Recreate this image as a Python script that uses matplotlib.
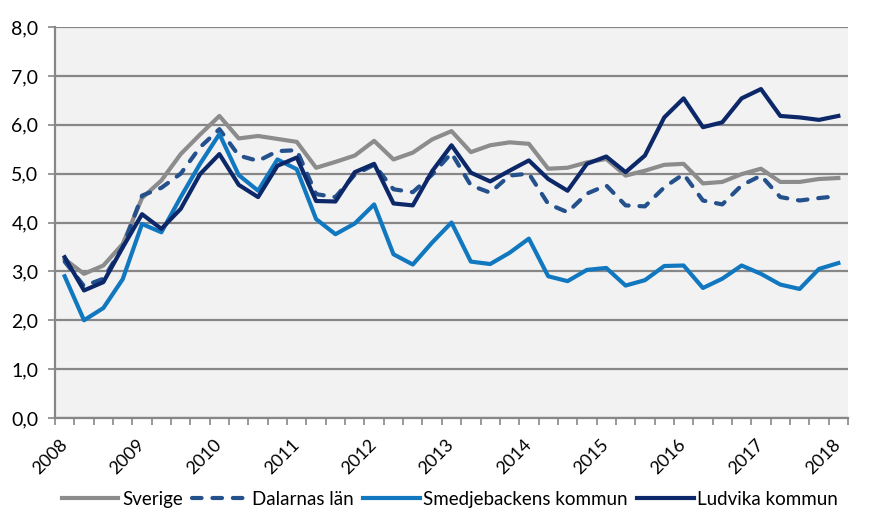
import matplotlib
matplotlib.use("Agg")
import matplotlib.pyplot as plt
from matplotlib.ticker import FuncFormatter, FixedLocator, NullFormatter
from matplotlib.transforms import ScaledTranslation

years = ["2008", "2009", "2010", "2011", "2012", "2013", "2014", "2015", "2016", "2017", "2018"]

sverige = [3.25, 2.95, 3.12, 3.56, 4.50, 4.86, 5.40, 5.80, 6.18, 5.72, 5.77, 5.71, 5.65, 5.12, 5.24, 5.37,
           5.67, 5.29, 5.43, 5.70, 5.87, 5.44, 5.58, 5.64, 5.61, 5.10, 5.12, 5.23, 5.30, 4.96, 5.06, 5.18,
           5.20, 4.80, 4.83, 4.99, 5.10, 4.83, 4.83, 4.89, 4.91]
dalarna = [3.20, 2.70, 2.85, 3.50, 4.55, 4.71, 5.00, 5.54, 5.91, 5.37, 5.26, 5.46, 5.48, 4.58, 4.52, 4.98,
           5.18, 4.68, 4.62, 4.98, 5.42, 4.76, 4.61, 4.96, 5.00, 4.38, 4.21, 4.59, 4.76, 4.35, 4.33, 4.72,
           4.99, 4.45, 4.37, 4.76, 4.96, 4.52, 4.45, 4.50, 4.54]
smedje = [2.90, 2.00, 2.25, 2.84, 3.97, 3.80, 4.52, 5.20, 5.81, 4.97, 4.65, 5.29, 5.09, 4.07, 3.76, 3.98,
          4.37, 3.35, 3.14, 3.59, 4.00, 3.20, 3.15, 3.38, 3.67, 2.90, 2.80, 3.03, 3.07, 2.71, 2.82, 3.11,
          3.12, 2.66, 2.85, 3.12, 2.95, 2.73, 2.64, 3.05, 3.17]
ludvika = [3.29, 2.61, 2.78, 3.49, 4.17, 3.87, 4.28, 4.99, 5.40, 4.77, 4.52, 5.16, 5.33, 4.44, 4.43, 5.03,
           5.20, 4.39, 4.35, 5.05, 5.58, 5.02, 4.84, 5.06, 5.27, 4.89, 4.65, 5.20, 5.35, 5.03, 5.37, 6.15,
           6.54, 5.95, 6.05, 6.54, 6.73, 6.18, 6.15, 6.10, 6.18]

series_names = ["Sverige", "Dalarnas län", "Smedjebackens kommun", "Ludvika kommun"]

plt.rcParams['font.family'] = ['Lato', 'DejaVu Sans']

fig = plt.figure(figsize=(8.86, 5.31), dpi=100)
ax = fig.add_axes([55/886, 1-418/531, (848-55)/886, (418-27)/531])
ax.set_facecolor('#f2f2f2')

x = list(range(len(sverige)))
lw = 3.0
ax.plot(x, sverige, color='#8c8c8c', lw=lw, label=series_names[0], zorder=3)
ax.plot(x, dalarna, color='#24508c', lw=lw, ls=(0, (2.3, 2.6)), dash_capstyle='round',
        label=series_names[1], zorder=3)
ax.plot(x, smedje, color='#1178c0', lw=lw, label=series_names[2], zorder=3)
ax.plot(x, ludvika, color='#0c2869', lw=lw, label=series_names[3], zorder=4)

ax.set_xlim(-0.5, len(sverige) - 0.5)
ax.set_ylim(0, 8)
ax.yaxis.set_major_locator(FixedLocator(range(0, 9)))
ax.yaxis.set_major_formatter(FuncFormatter(lambda v, p: f"{v:.1f}".replace(".", ",")))
ax.grid(axis='y', color='#878787', lw=1.6, zorder=1)
ax.set_axisbelow(True)

# x axis: minor ticks between categories, year labels placed manually
ax.xaxis.set_major_locator(FixedLocator([]))
ax.xaxis.set_major_formatter(NullFormatter())
ax.xaxis.set_minor_locator(FixedLocator([k - 0.5 for k in range(len(sverige) + 1)]))
ax.tick_params(axis='x', which='minor', length=5, width=1.2, color='#878787', direction='out')
ax.tick_params(axis='y', length=5, width=1.2, color='#878787', labelsize=14, pad=7)

label_trans = ax.get_xaxis_transform() + ScaledTranslation(0.0, -0.245, fig.dpi_scale_trans)
for i, yr in enumerate(years):
    ax.text(4 * i, 0, yr, transform=label_trans, rotation=45, ha='right', va='center',
            rotation_mode='anchor', fontsize=13, color='black', clip_on=False)

for s in ['top', 'right']:
    ax.spines[s].set_visible(False)
for s in ['left', 'bottom']:
    ax.spines[s].set_color('#878787')
    ax.spines[s].set_linewidth(1.6)

leg = fig.legend(loc='lower center', bbox_to_anchor=(0.508, 0.012), ncol=4, frameon=False,
                 fontsize=13.5, handlelength=3.0, handletextpad=0.2, columnspacing=0.5)

fig.savefig("out.png", dpi=100, facecolor='white')
